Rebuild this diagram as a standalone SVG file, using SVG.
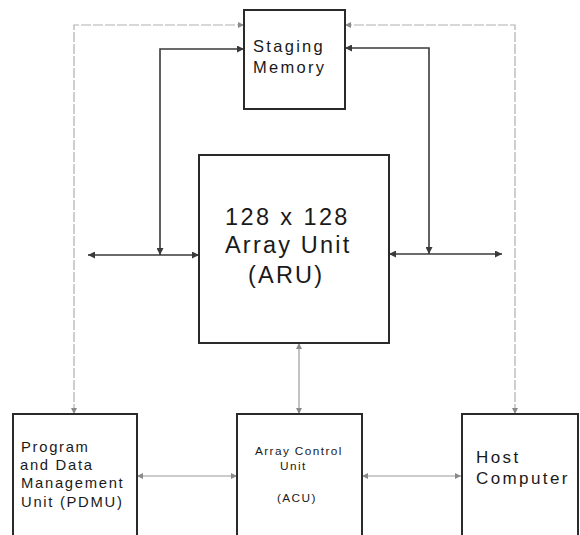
<svg xmlns="http://www.w3.org/2000/svg" width="580" height="535" viewBox="0 0 580 535">
<style>
.box{fill:#fff;stroke:#2a2a2a;stroke-width:2}
.t{font-family:"Liberation Sans",Arial,sans-serif;fill:#1a1a1a}
.bus{fill:none;stroke:#3a3a3a;stroke-width:1.6}
.ctl{fill:none;stroke:#9a9a9a;stroke-width:1.2}
.dash{fill:none;stroke:#b0b0b0;stroke-width:1.2;stroke-dasharray:10 2}
</style>
<defs>
<marker id="ad" viewBox="0 0 10 10" refX="10" refY="5" markerWidth="10" markerHeight="7" markerUnits="userSpaceOnUse" orient="auto-start-reverse">
<path d="M0,0 L10,5 L0,10 z" fill="#3a3a3a"/>
</marker>
<marker id="ag" viewBox="0 0 10 10" refX="10" refY="5" markerWidth="8" markerHeight="6" markerUnits="userSpaceOnUse" orient="auto-start-reverse">
<path d="M0,0 L10,5 L0,10 z" fill="#8a8a8a"/>
</marker>
</defs>
<rect width="580" height="535" fill="#fff"/>
<g id="connectors">
<polyline class="dash" points="74,414 74,25 244,25" marker-start="url(#ag)" marker-end="url(#ag)"/>
<polyline class="dash" points="515,414 515,25 345,25" marker-start="url(#ag)" marker-end="url(#ag)"/>
<polyline class="bus" points="160,255 160,49 244,49" marker-start="url(#ad)" marker-end="url(#ad)"/>
<line class="bus" x1="88" y1="255" x2="199" y2="255" marker-start="url(#ad)" marker-end="url(#ad)"/>
<polyline class="bus" points="429,254 429,48 345,48" marker-start="url(#ad)" marker-end="url(#ad)"/>
<line class="bus" x1="389" y1="254" x2="502" y2="254" marker-start="url(#ad)" marker-end="url(#ad)"/>
<line class="ctl" x1="299" y1="343" x2="299" y2="414" marker-start="url(#ag)" marker-end="url(#ag)"/>
<line class="ctl" x1="137" y1="476" x2="237" y2="476" marker-start="url(#ag)" marker-end="url(#ag)"/>
<line class="ctl" x1="362" y1="476" x2="461" y2="476" marker-start="url(#ag)" marker-end="url(#ag)"/>
</g>
<g id="staging">
<rect class="box" x="244" y="10" width="101" height="99"/>
<text class="t" x="253" y="52" font-size="16.5" letter-spacing="2.3">Staging</text>
<text class="t" x="253" y="73" font-size="16.5" letter-spacing="2.3">Memory</text>
</g>
<g id="aru">
<rect class="box" x="199" y="155" width="190" height="188"/>
<text class="t" x="225" y="225" font-size="23.5" letter-spacing="2.4">128 x 128</text>
<text class="t" x="225" y="253" font-size="23.5" letter-spacing="2.2">Array Unit</text>
<text class="t" x="248" y="283" font-size="23.5" letter-spacing="2.2">(ARU)</text>
</g>
<g id="pdmu">
<rect class="box" x="13" y="414" width="124" height="130"/>
<text class="t" x="21" y="452" font-size="14.8" letter-spacing="1.7">Program</text>
<text class="t" x="20" y="470" font-size="14.8" letter-spacing="1.7">and Data</text>
<text class="t" x="21" y="488" font-size="14.8" letter-spacing="1.7">Management</text>
<text class="t" x="21" y="507" font-size="14.8" letter-spacing="1.7">Unit (PDMU)</text>
</g>
<g id="acu">
<rect class="box" x="237" y="414" width="125" height="130"/>
<text class="t" x="255" y="455" font-size="11.8" letter-spacing="1.4">Array Control</text>
<text class="t" x="280" y="470" font-size="11.8" letter-spacing="1.4">Unit</text>
<text class="t" x="277" y="502" font-size="11.8" letter-spacing="1.4">(ACU)</text>
</g>
<g id="host">
<rect class="box" x="462" y="414" width="116" height="130"/>
<text class="t" x="476" y="463" font-size="17" letter-spacing="2.4">Host</text>
<text class="t" x="476" y="484" font-size="17" letter-spacing="2.4">Computer</text>
</g>
</svg>
